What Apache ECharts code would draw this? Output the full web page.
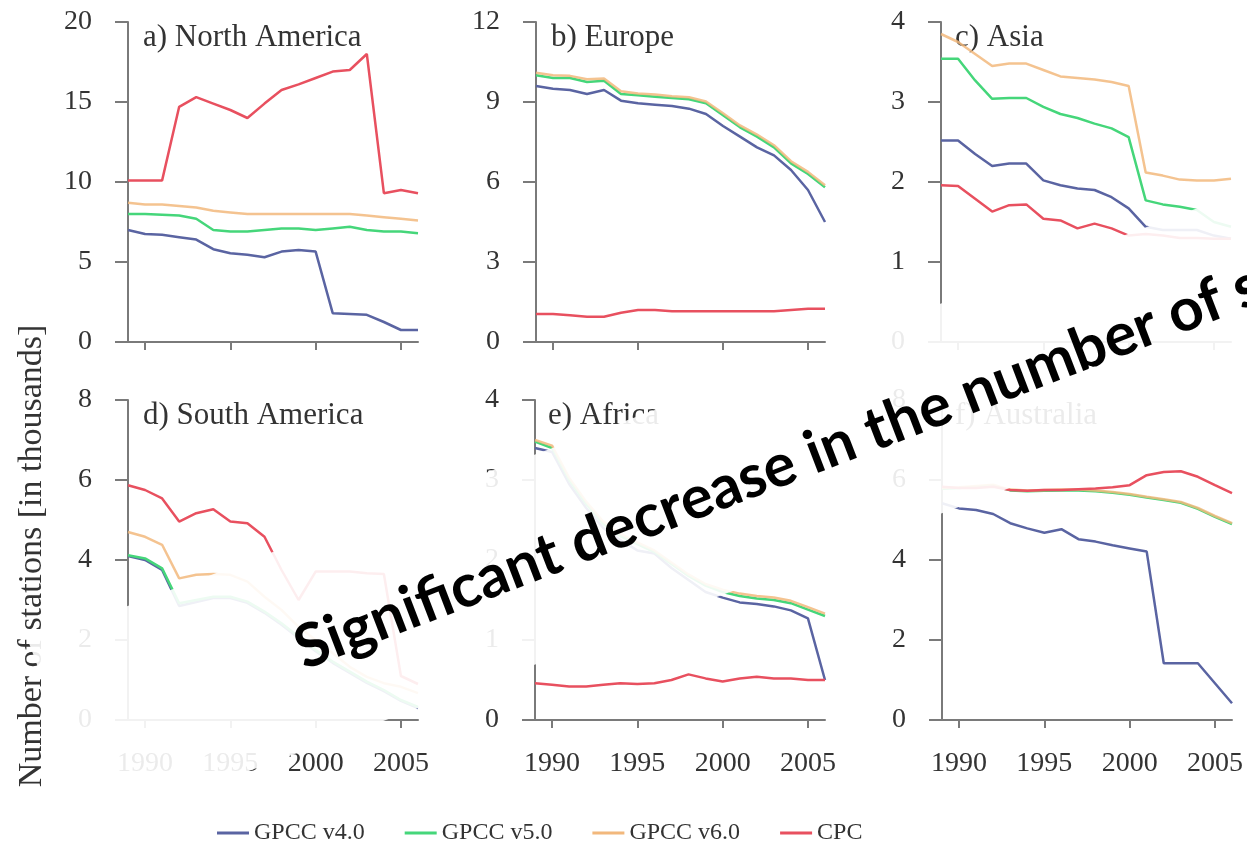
<!DOCTYPE html>
<html><head><meta charset="utf-8">
<script src="https://cdn.jsdelivr.net/npm/echarts@6/dist/echarts.min.js"></script>
<style>html,body{margin:0;padding:0;background:#fff}#c{width:1247px;height:855px}</style>
</head><body><div id="c"></div>
<script>
const years = ['1989','1990','1991','1992','1993','1994','1995','1996','1997','1998','1999','2000','2001','2002','2003','2004','2005','2006'];
const seriesNames = ['GPCC v4.0','GPCC v5.0','GPCC v6.0','CPC'];
const panelTitles = ['a) North America','b) Europe','c) Asia','d) South America','e) Africa','f) Australia'];
const yMax = [20, 12, 4, 8, 4, 8];
const yStep = [5, 3, 1, 2, 1, 2];

const naV4 = [7.0,6.75,6.7,6.55,6.4,5.8,5.55,5.45,5.3,5.65,5.75,5.65,1.8,1.75,1.7,1.25,0.75,0.75];
const naV5 = [8.0,8.0,7.95,7.9,7.7,7.0,6.9,6.9,7.0,7.1,7.1,7.0,7.1,7.2,7.0,6.9,6.9,6.8];
const naV6 = [8.7,8.6,8.6,8.5,8.4,8.2,8.1,8.0,8.0,8.0,8.0,8.0,8.0,8.0,7.9,7.8,7.7,7.6];
const naCPC = [10.1,10.1,10.1,14.7,15.3,14.9,14.5,14.0,14.9,15.75,16.1,16.5,16.9,17.0,18.0,9.3,9.5,9.3];

const euV4 = [9.6,9.5,9.45,9.3,9.45,9.05,8.95,8.9,8.85,8.75,8.55,8.1,7.7,7.3,7.0,6.45,5.7,4.5];
const euV5 = [10.0,9.9,9.9,9.75,9.8,9.3,9.25,9.2,9.15,9.1,8.95,8.5,8.05,7.7,7.3,6.7,6.3,5.8];
const euV6 = [10.1,10.0,9.98,9.85,9.88,9.4,9.32,9.28,9.22,9.18,9.02,8.58,8.12,7.78,7.38,6.78,6.38,5.88];
const euCPC = [1.05,1.05,1.0,0.95,0.95,1.1,1.2,1.2,1.15,1.15,1.15,1.15,1.15,1.15,1.15,1.2,1.25,1.25];

const asV4 = [2.52,2.52,2.35,2.2,2.23,2.23,2.02,1.96,1.92,1.9,1.81,1.67,1.44,1.4,1.4,1.4,1.33,1.29];
const asV5 = [3.54,3.54,3.27,3.04,3.05,3.05,2.94,2.85,2.8,2.73,2.67,2.56,1.77,1.72,1.69,1.65,1.5,1.44];
const asV6 = [3.85,3.75,3.6,3.45,3.48,3.48,3.4,3.32,3.3,3.28,3.25,3.2,2.12,2.08,2.03,2.02,2.02,2.04];
const asCPC = [1.96,1.95,1.79,1.63,1.71,1.72,1.54,1.52,1.42,1.48,1.42,1.33,1.35,1.33,1.3,1.3,1.29,1.29];

const saV4 = [4.1,4.0,3.75,2.85,2.95,3.05,3.05,2.93,2.68,2.38,2.05,1.72,1.43,1.18,0.93,0.72,0.48,0.3];
const saV5 = [4.12,4.04,3.79,2.92,3.0,3.08,3.08,2.96,2.71,2.42,2.08,1.75,1.46,1.21,0.96,0.75,0.5,0.33];
const saV6 = [4.7,4.58,4.38,3.54,3.63,3.65,3.63,3.46,3.08,2.75,2.33,2.0,1.67,1.33,1.08,0.92,0.83,0.67];
const saCPC = [5.87,5.75,5.54,4.96,5.17,5.27,4.96,4.92,4.58,3.75,3.0,3.71,3.71,3.71,3.67,3.65,1.1,0.9];

const afV4 = [3.4,3.35,2.95,2.65,2.4,2.25,2.12,2.08,1.9,1.75,1.6,1.53,1.47,1.45,1.42,1.37,1.27,0.5];
const afV5 = [3.48,3.4,3.0,2.7,2.45,2.3,2.2,2.1,1.95,1.8,1.68,1.6,1.55,1.52,1.5,1.46,1.38,1.3];
const afV6 = [3.5,3.43,3.03,2.73,2.48,2.33,2.22,2.12,1.97,1.82,1.7,1.63,1.58,1.55,1.53,1.49,1.41,1.33];
const afCPC = [0.46,0.44,0.42,0.42,0.44,0.46,0.45,0.46,0.5,0.57,0.52,0.48,0.52,0.54,0.52,0.52,0.5,0.5];

const auV4 = [5.42,5.29,5.25,5.15,4.92,4.79,4.68,4.77,4.52,4.46,4.37,4.29,4.21,1.42,1.42,1.42,0.92,0.42];
const auV5 = [5.78,5.8,5.83,5.86,5.74,5.72,5.73,5.74,5.74,5.72,5.68,5.63,5.56,5.5,5.43,5.28,5.08,4.9];
const auV6 = [5.8,5.82,5.85,5.88,5.76,5.74,5.75,5.76,5.76,5.74,5.7,5.65,5.58,5.52,5.45,5.3,5.1,4.92];
const auCPC = [5.83,5.8,5.8,5.83,5.75,5.73,5.75,5.75,5.77,5.79,5.82,5.87,6.12,6.2,6.22,6.08,5.87,5.67];

const panelData = [
  [naV4, naV5, naV6, naCPC],
  [euV4, euV5, euV6, euCPC],
  [asV4, asV5, asV6, asCPC],
  [saV4, saV5, saV6, saCPC],
  [afV4, afV5, afV6, afCPC],
  [auV4, auV5, auV6, auCPC]
];

const colors = ['#5a64a2', '#45d67a', '#f2b87c', '#e8505f'];
const gridPos = [
  {left:128, top:22, width:290, height:320},
  {left:536, top:22, width:289, height:320},
  {left:941, top:22, width:290, height:320},
  {left:128, top:400, width:290, height:320},
  {left:535, top:400, width:290, height:320},
  {left:942, top:400, width:290, height:320}
];
const titlePos = [[138,17],[546,17],[950,17],[138,395],[543,395],[950,395]];
const FONT = 'Liberation Serif';
const axisCol = '#7a7a7a';
const labCol = '#333';

const grid = [], xAxis = [], yAxis = [], series = [], title = [];
for (let i = 0; i < 6; i++) {
  grid.push(Object.assign({containLabel:false}, gridPos[i]));
  title.push({text: panelTitles[i], left: titlePos[i][0], top: titlePos[i][1], z:1,
    textStyle:{fontFamily:FONT, fontSize:31, fontWeight:'normal', color:labCol}});
  const showLab = i >= 3;
  xAxis.push({type:'category', gridIndex:i, data:years, boundaryGap:false,
    axisLine:{lineStyle:{color:axisCol, width:2}},
    axisTick:{interval:(idx, val) => (+val) % 5 === 0, length:8, lineStyle:{color:axisCol, width:2}},
    axisLabel:{show:showLab, interval:(idx, val) => (+val) % 5 === 0, fontFamily:FONT, fontSize:28, color:labCol, margin:30},
    splitLine:{show:false}});
  yAxis.push({type:'value', gridIndex:i, min:0, max:yMax[i], interval:yStep[i],
    axisLine:{show:true, lineStyle:{color:axisCol, width:2}},
    axisTick:{show:true, length:13, lineStyle:{color:axisCol, width:2}},
    axisLabel:{fontFamily:FONT, fontSize:28, color:labCol, margin:36},
    splitLine:{show:false}});
  for (let s = 0; s < 4; s++) {
    series.push({type:'line', name:seriesNames[s], xAxisIndex:i, yAxisIndex:i,
      data:panelData[i][s], symbol:'none', silent:true,
      lineStyle:{width:2.5, color:colors[s], opacity: s === 2 ? 0.85 : 1},
      itemStyle:{color:colors[s]}});
  }
}

const boxAngle = 20.4 * Math.PI / 180;
const textAngle = 21 * Math.PI / 180;
const chart = echarts.init(document.getElementById('c'));
chart.setOption({
  animation:false,
  backgroundColor:'#fff',
  title: title,
  grid: grid,
  xAxis: xAxis,
  yAxis: yAxis,
  series: series,
  legend: {data: seriesNames, left:212, top:816, icon:'rect', itemWidth:32, itemHeight:3, itemGap:40,
    textStyle:{fontFamily:FONT, fontSize:24, color:labCol}},
  graphic: [
    {type:'text', x:32, y:556, rotation:Math.PI/2, z:5,
      style:{text:'Number of stations [in thousands]', fontFamily:FONT, fontSize:34, fill:labCol, align:'center', verticalAlign:'middle'}},
    {type:'rect', x:305, y:668, rotation:boxAngle, z:90, silent:true,
      shape:{x:-250, y:-120, width:1700, height:197}, style:{fill:'#ffffff', opacity:0.9}},
    {type:'text', x:308, y:680, rotation:textAngle, z:100, silent:true,
      style:{text:'Significant decrease in the number of stations', fontFamily:'Lato', fontWeight:'bold', fontSize:60, fill:'#000', align:'left', verticalAlign:'bottom'}}
  ]
});
</script>
</body></html>
